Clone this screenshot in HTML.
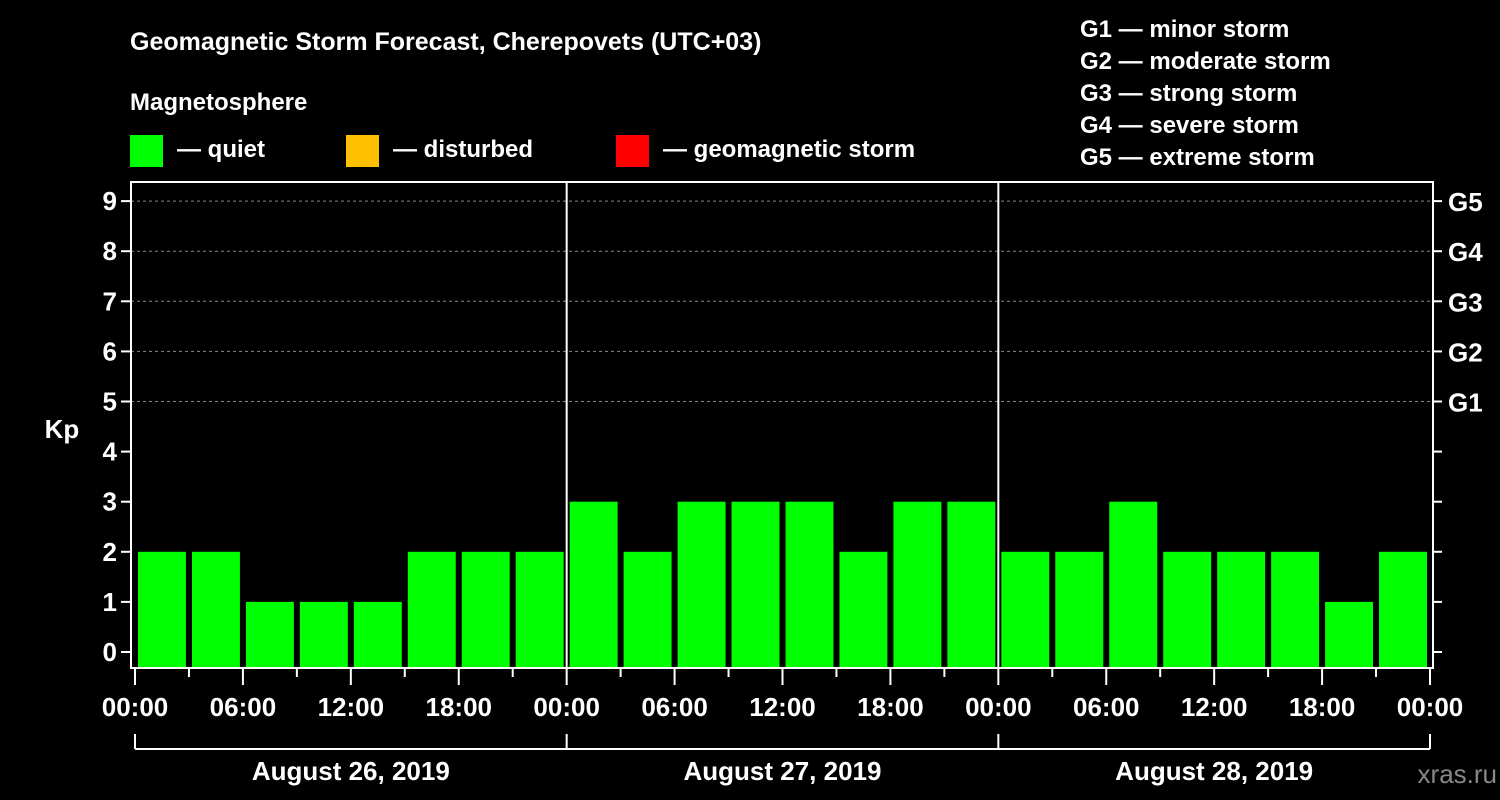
<!DOCTYPE html>
<html><head><meta charset="utf-8"><style>
html,body{margin:0;padding:0;background:#000;}
svg{display:block;font-family:"Liberation Sans",Arial,sans-serif;font-weight:bold;}
</style></head><body>
<svg id="c" width="1500" height="800" viewBox="0 0 1500 800">
<rect width="1500" height="800" fill="#000"/>
<text x="130" y="50" fill="#fff" font-size="25">Geomagnetic Storm Forecast, Cherepovets (UTC+03)</text>
<text x="130" y="110" fill="#fff" font-size="24">Magnetosphere</text>
<g><rect x="130" y="135" width="33" height="32" fill="#00ff00"/><text x="177" y="157" fill="#fff" font-size="24">— quiet</text></g>
<g><rect x="346" y="135" width="33" height="32" fill="#ffc000"/><text x="393" y="157" fill="#fff" font-size="24">— disturbed</text></g>
<g><rect x="616" y="135" width="33" height="32" fill="#ff0000"/><text x="663" y="157" fill="#fff" font-size="24">— geomagnetic storm</text></g>
<g fill="#fff" font-size="24">
<text x="1080" y="37">G1 — minor storm</text>
<text x="1080" y="69">G2 — moderate storm</text>
<text x="1080" y="101">G3 — strong storm</text>
<text x="1080" y="133">G4 — severe storm</text>
<text x="1080" y="165">G5 — extreme storm</text>
</g>
<text x="62" y="438" fill="#fff" font-size="26" text-anchor="middle">Kp</text>
<text x="1497" y="783" fill="#888" font-size="26" text-anchor="end" font-weight="normal">xras.ru</text>
<g id="grid"></g><g id="bars"></g><g id="axes"></g>
</svg>
<script>
const kpValues=[2,2,1,1,1,2,2,2, 3,2,3,3,3,2,3,3, 2,2,3,2,2,2,1,2];
const yTicks=[0,1,2,3,4,5,6,7,8,9];
const gLabels=["G1","G2","G3","G4","G5"];
const gLevels=[5,6,7,8,9];
const xTickLabels=["00:00","06:00","12:00","18:00","00:00","06:00","12:00","18:00","00:00","06:00","12:00","18:00","00:00"];
const dayLabels=["August 26, 2019","August 27, 2019","August 28, 2019"];
const NS="http://www.w3.org/2000/svg";
const X0=135,X1=1430,PL=131,PR=1433,PT=182,PB=668;
const slotW=(X1-X0)/kpValues.length;
function xs(i){return X0+i*slotW;}
function ys(v){return 652-v*50.1;}
function mk(p,tag,a){const e=document.createElementNS(NS,tag);for(const k in a)e.setAttribute(k,a[k]);p.appendChild(e);return e;}
const grid=document.getElementById('grid'),bars=document.getElementById('bars'),axes=document.getElementById('axes');
gLevels.forEach((v,i)=>{
 const l=mk(grid,'line',{x1:PL,x2:PR,y1:ys(v),y2:ys(v),stroke:'#888','stroke-dasharray':'3,3','stroke-width':1});
 
 
});
kpValues.forEach((v,i)=>{
 const r=mk(bars,'rect',{x:xs(i)+3,y:ys(v),width:slotW-6,height:PB-1-ys(v),fill:v>=5?'#ff0000':(v>=4?'#ffc000':'#00ff00')});
 
 
});
const fr=mk(axes,'rect',{x:PL,y:PT,width:PR-PL,height:PB-PT,fill:'none',stroke:'#fff','stroke-width':2});


[1,2].forEach(d=>{
 const l=mk(axes,'line',{x1:xs(d*8),x2:xs(d*8),y1:PT,y2:PB,stroke:'#fff','stroke-width':2});
 
 
});
yTicks.forEach(v=>{
 const y=ys(v);
 mk(axes,'line',{x1:PL-10,x2:PL,y1:y,y2:y,stroke:'#fff','stroke-width':2});
 mk(axes,'line',{x1:PR,x2:PR+9,y1:y,y2:y,stroke:'#fff','stroke-width':2});
 const t=mk(axes,'text',{x:PL-14,y:y+9,fill:'#fff','font-size':26,'text-anchor':'end'});
 t.textContent=v;
 
 
});
gLevels.forEach((v,i)=>{
 const t=mk(axes,'text',{x:1448,y:ys(v)+10,fill:'#fff','font-size':26});
 t.textContent=gLabels[i];
 
 
});
for(let i=0;i<=kpValues.length;i++){
 const maj=i%2===0;
 mk(axes,'line',{x1:xs(i),x2:xs(i),y1:PB,y2:PB+(maj?17:9),stroke:'#fff','stroke-width':2});
}
xTickLabels.forEach((s,i)=>{
 const t=mk(axes,'text',{x:xs(i*2),y:716,fill:'#fff','font-size':26,'text-anchor':'middle'});
 t.textContent=s;
 
 
});
mk(axes,'line',{x1:X0,x2:X1,y1:749,y2:749,stroke:'#fff','stroke-width':2});
for(let d=0;d<=3;d++)mk(axes,'line',{x1:xs(d*8),x2:xs(d*8),y1:734,y2:749,stroke:'#fff','stroke-width':2});
dayLabels.forEach((s,d)=>{
 const t=mk(axes,'text',{x:(xs(d*8)+xs(d*8+8))/2,y:780,fill:'#fff','font-size':26,'text-anchor':'middle'});
 t.textContent=s;
 
 
});
</script>
</body></html>
